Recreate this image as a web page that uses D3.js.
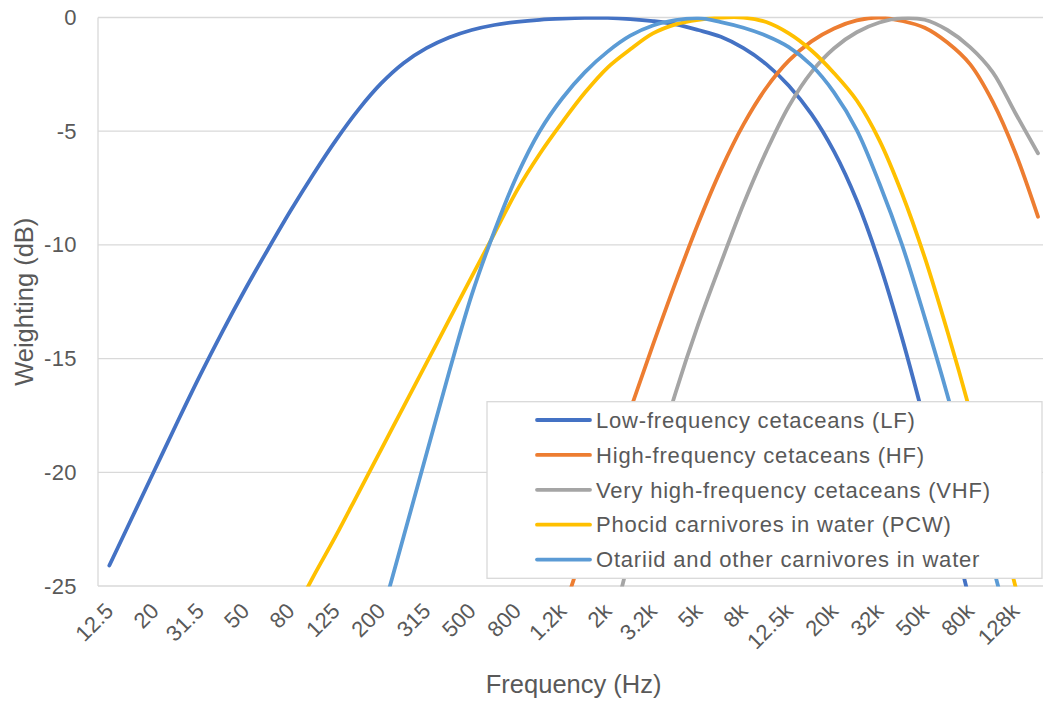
<!DOCTYPE html>
<html>
<head>
<meta charset="utf-8">
<script src="https://cdn.jsdelivr.net/npm/d3@7"></script>
<style>
  html, body { margin: 0; padding: 0; background: #ffffff; }
  svg { display: block; font-family: "Liberation Sans", Arial, sans-serif; }
</style>
</head>
<body>
<svg id="chart" width="1043" height="701"></svg>
<script>
// ---------- data ----------
const categories = ["12.5","16","20","25","31.5","40","50","63","80","100","125","160","200","250","315","400","500","630","800","1k","1.2k","1.6k","2k","2.5k","3.2k","4k","5k","6.3k","8k","10k","12.5k","16k","20k","25k","32k","40k","50k","63k","80k","100k","128k","160k"];

const yTicks = [0, -5, -10, -15, -20, -25];

const seriesNames = [
  "Low-frequency cetaceans (LF)",
  "High-frequency cetaceans (HF)",
  "Very high-frequency cetaceans (VHF)",
  "Phocid carnivores in water (PCW)",
  "Otariid and other carnivores in water"
];

const seriesColors = ["#4472C4", "#ED7D31", "#A5A5A5", "#FFC000", "#5B9BD5"];

const lfValues = [-24.1, -22.0, -19.9, -17.8, -15.75, -13.8, -11.95, -10.2, -8.5, -6.9,
  -5.4, -4.05, -2.9, -2.0, -1.35, -0.88, -0.55, -0.33, -0.19, -0.1,
  -0.05, -0.02, -0.02, -0.07, -0.16, -0.3, -0.55, -0.85, -1.35, -2.05,
  -3.0, -4.25, -5.9, -8.05, -10.8, -14.1, -17.8, -21.7, -25.7, -29.7,
  -33.7, -37.7];

const hfValues = [null, null, null, null, null, null, null, null, null, null,
  null, null, null, null, null, null, null, null, -32.3, -29.3,
  -26.25, -23.2, -20.2, -17.25, -14.4, -11.65, -9.05, -6.7, -4.7, -3.1,
  -1.9, -1.05, -0.48, -0.13, 0.0, -0.15, -0.45, -1.1, -2.05, -3.7,
  -5.95, -8.76];

const vhfValues = [null, null, null, null, null, null, null, null, null, null,
  null, null, null, null, null, null, null, null, null, null,
  null, -31.6, -27.6, -23.6, -19.9, -16.5, -13.5, -10.8, -8.2, -5.9,
  -3.9, -2.4, -1.35, -0.65, -0.22, -0.03, -0.1, -0.55, -1.3, -2.4,
  -4.2, -5.97];

const pcwValues = [null, null, null, null, null, null, null, null, -26.5, -24.6,
  -22.8, -20.9, -19.0, -17.1, -15.2, -13.3, -11.4, -9.5, -7.6, -6.0,
  -4.6, -3.3, -2.2, -1.4, -0.7, -0.3, -0.1, 0.0, 0.0, -0.2,
  -0.7, -1.45, -2.45, -3.65, -5.4, -7.75, -10.55, -13.8, -17.3, -21.1,
  -25.0, -29.0];

const ocwValues = [null, null, null, null, null, null, null, null, null, null,
  null, -30.0, -26.4, -22.8, -19.2, -15.6, -12.2, -9.4, -6.95, -5.0,
  -3.55, -2.4, -1.5, -0.8, -0.35, -0.12, -0.03, -0.2, -0.45, -0.8,
  -1.3, -2.1, -3.3, -4.95, -7.3, -10.0, -13.2, -16.6, -20.3, -24.1,
  -27.9, -31.8];

const seriesValues = [lfValues, hfValues, vhfValues, pcwValues, ocwValues];

// ---------- layout ----------
const svg = d3.select("#chart");
const plotLeft = 98, plotTop = 17.5, plotBottom = 586;
const catStep = 22.65;
const plotRight = plotLeft + catStep * categories.length;

const x = d3.scaleBand().domain(categories).range([plotLeft, plotRight]).paddingInner(0).paddingOuter(0);
const xc = c => x(c) + x.bandwidth() / 2;
const y = d3.scaleLinear().domain([-25, 0]).range([plotBottom, plotTop]);

const textColor = "#595959";
const gridColor = "#D9D9D9";
const fontFam = '"Liberation Sans", Arial, sans-serif';

svg.append("rect").attr("width", 1043).attr("height", 701).attr("fill", "#fff");

// gridlines
svg.append("g").selectAll("line").data(yTicks).join("line")
  .attr("x1", plotLeft).attr("x2", plotRight)
  .attr("y1", d => y(d)).attr("y2", d => y(d))
  .attr("stroke", gridColor).attr("stroke-width", 1.3);

// left axis line
svg.append("line")
  .attr("x1", plotLeft).attr("x2", plotLeft)
  .attr("y1", plotTop).attr("y2", plotBottom)
  .attr("stroke", gridColor).attr("stroke-width", 1.3);

// y axis labels
const yAxis = d3.axisLeft(y).tickValues(yTicks).tickSize(0).tickPadding(21).tickFormat(d => d3.format("d")(d).replace("−", "-"));
const yg = svg.append("g").attr("transform", `translate(${plotLeft},0)`).call(yAxis);
yg.select(".domain").remove();
yg.selectAll("text").attr("fill", textColor).style("font-size", "22px")
  .style("font-family", fontFam).style("letter-spacing", "0.4px");

// x axis labels
const xAxis = d3.axisBottom(x).tickSize(0).tickFormat((d, i) => i % 2 === 0 ? d : "");
const xg = svg.append("g").attr("transform", `translate(0,${plotBottom})`).call(xAxis);
xg.select(".domain").remove();
xg.selectAll(".tick text")
  .attr("fill", textColor)
  .style("font-size", "22px")
  .style("font-family", fontFam)
  .attr("text-anchor", "end")
  .attr("x", 0).attr("y", 0).attr("dy", "0.35em")
  .attr("transform", "translate(0,21) rotate(-45)");

// clip
svg.append("clipPath").attr("id", "plotclip").append("rect")
  .attr("x", plotLeft).attr("y", plotTop - 1)
  .attr("width", plotRight - plotLeft).attr("height", plotBottom - plotTop + 1.5);

const line = d3.line()
  .x(d => xc(d.c))
  .y(d => y(d.v))
  .curve(d3.curveCatmullRom.alpha(0.5));

const lg = svg.append("g").attr("clip-path", "url(#plotclip)");
seriesValues.forEach((vals, si) => {
  const pts = vals.map((v, i) => ({ c: categories[i], v })).filter(d => d.v !== null);
  lg.append("path").datum(pts)
    .attr("d", line)
    .attr("fill", "none")
    .attr("stroke", seriesColors[si])
    .attr("stroke-width", 3.8)
    .attr("stroke-linejoin", "round")
    .attr("stroke-linecap", "round");
});

// legend
const legX = 487, legY = 401.7, legW = 555, legH = 176.6;
const leg = svg.append("g");
leg.append("rect").attr("x", legX).attr("y", legY).attr("width", legW).attr("height", legH)
  .attr("fill", "#fff").attr("stroke", gridColor).attr("stroke-width", 1.3);
seriesNames.forEach((name, i) => {
  const cy = 420 + i * 34.9;
  leg.append("line").attr("x1", 537).attr("x2", 590).attr("y1", cy).attr("y2", cy)
    .attr("stroke", seriesColors[i]).attr("stroke-width", 3.8).attr("stroke-linecap", "round");
  leg.append("text").attr("x", 596).attr("y", cy).attr("dy", "0.35em")
    .attr("fill", textColor).style("font-size", "22px").style("letter-spacing", "0.8px").text(name);
});

// axis titles
svg.append("text").attr("x", (plotLeft + plotRight) / 2).attr("y", 693)
  .attr("text-anchor", "middle").attr("fill", textColor).style("font-size", "25.5px")
  .text("Frequency (Hz)");
svg.append("text").attr("transform", `translate(33,${(plotTop + plotBottom) / 2}) rotate(-90)`)
  .attr("text-anchor", "middle").attr("fill", textColor).style("font-size", "25.5px")
  .text("Weighting (dB)");
</script>
</body>
</html>
